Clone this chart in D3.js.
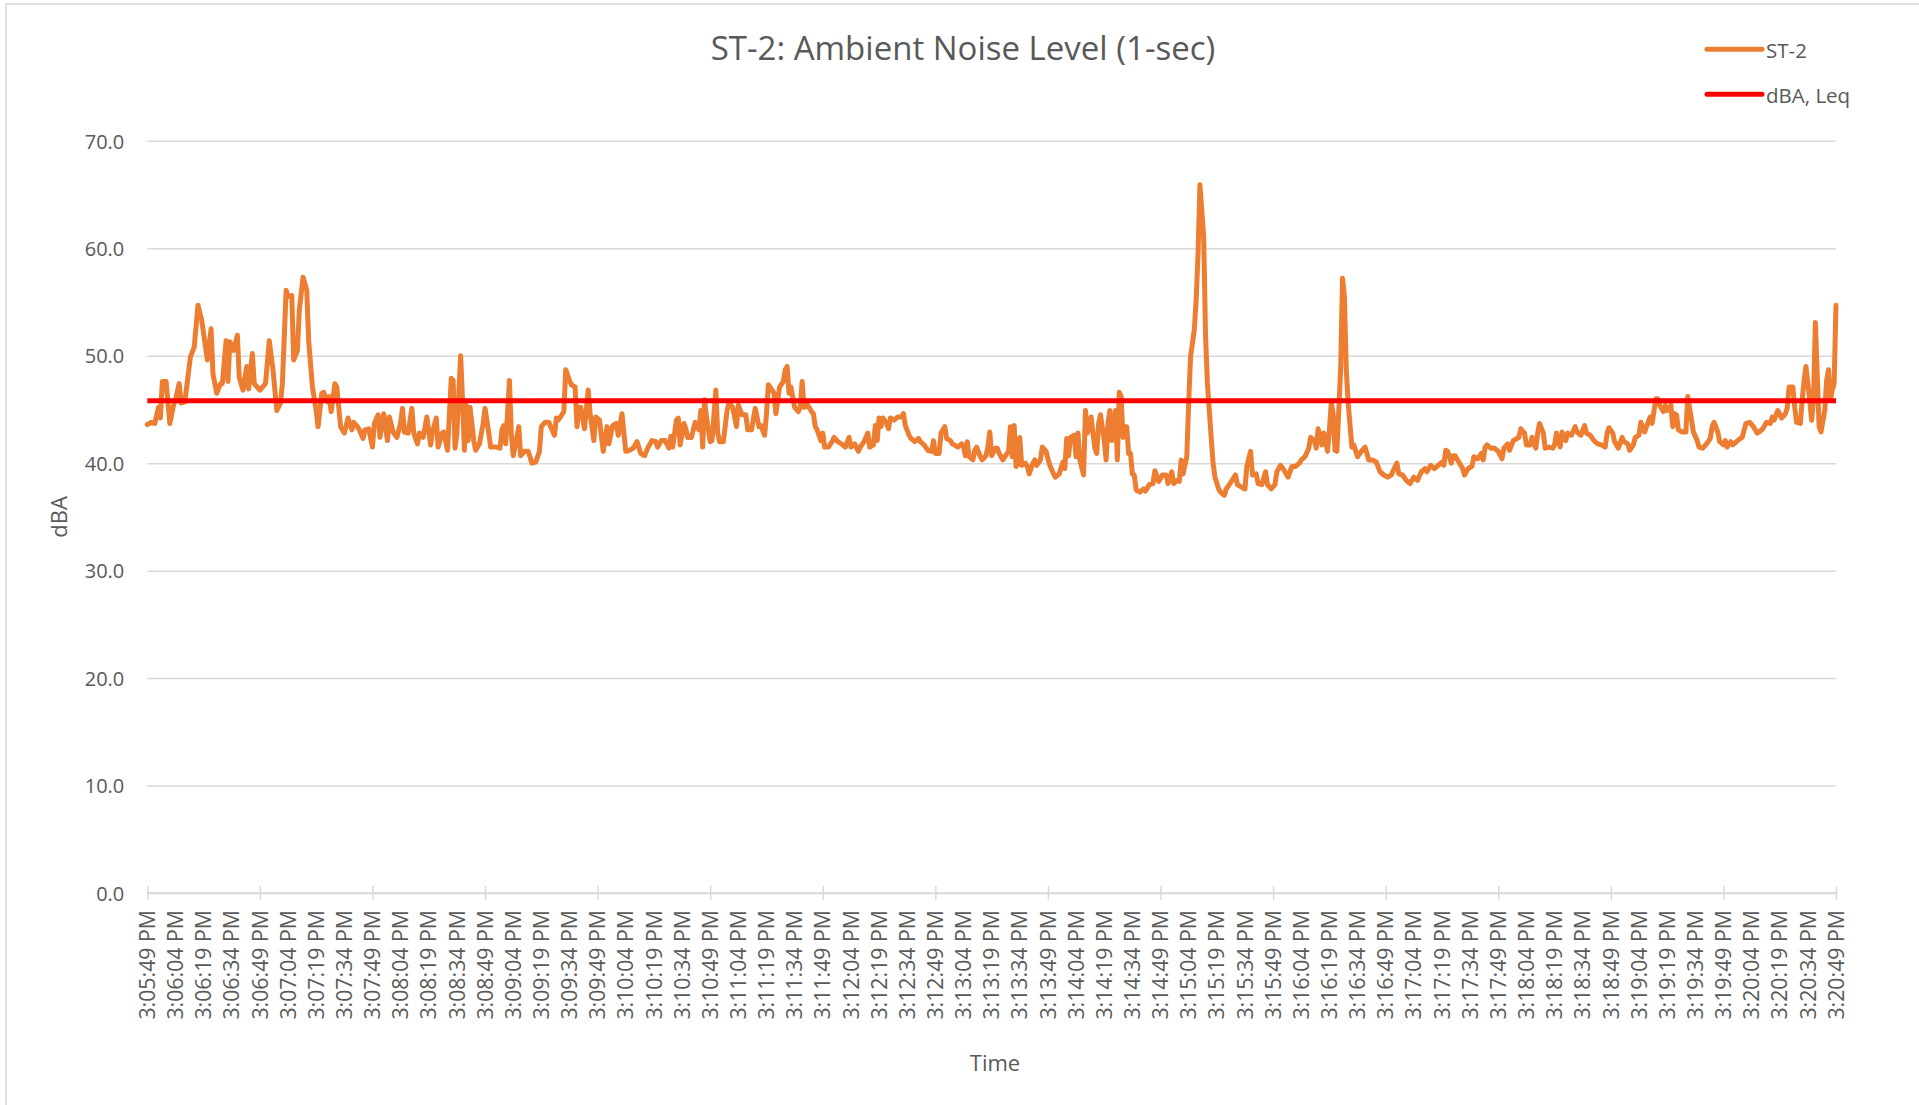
<!DOCTYPE html>
<html>
<head>
<meta charset="utf-8">
<title>ST-2: Ambient Noise Level (1-sec)</title>
<script src="https://cdn.jsdelivr.net/npm/d3@7/dist/d3.min.js"></script>
<style>
  html, body { margin: 0; padding: 0; background: #fff; }
  svg { display: block; }
  text { font-family: 'Open Sans', 'Noto Sans', sans-serif; fill: #595959; }
</style>
</head>
<body>
<div id="chart"></div>
<script>
'use strict';

/* ── Data ── */
const chartTitle = 'ST-2: Ambient Noise Level (1-sec)';
const seriesNames = ['ST-2', 'dBA, Leq'];
const seriesColors = ['#ED7D31', '#FF0000'];
const startTime = new Date(2023, 0, 1, 15, 5, 49);   // 3:05:49 PM
const durationSec = 900;                             // to 3:20:49 PM
const labelStepSec = 15;
const tickStepSec = 60;
const yTicks = [0, 10, 20, 30, 40, 50, 60, 70];
const leqDba = 45.8;

// [seconds after 3:05:49 PM, dBA]
const st2Samples = [
  [0,43.6],[2,43.8],[4,43.7],[6,45.2],[7,44.2],[8,47.6],[10,47.6],[12,43.7],[14,45.4],[15,45.9],[17,47.4],[18,45.6],[20,45.7],[23,49.9],[25,50.8],[27,54.7],[29,53.3],[32,49.6],[34,52.5],[35,48.3],[37,46.5],[39,47.4],[40,47.4],[42,51.4],[43,47.6],[44,51.3],[46,50.5],[48,51.9],[49,48.0],[51,46.8],[53,49.0],[54,46.9],[56,50.2],[57,47.4],[60,46.8],[63,47.4],[65,51.4],[67,48.7],[69,44.9],[71,45.6],[72,47.4],[74,56.1],[75,55.5],[77,55.6],[78,49.6],[80,50.5],[81,54.2],[83,57.3],[85,56.1],[86,51.4],[88,47.1],[90,44.9],[91,43.4],[93,46.5],[94,46.6],[96,45.7],[97,46.2],[98,44.8],[100,47.4],[101,47.1],[103,43.4],[105,42.8],[107,44.2],[109,43.1],[110,43.8],[112,43.4],[113,43.1],[115,42.3],[116,43.1],[118,43.2],[120,41.5],[121,43.7],[123,44.5],[124,42.4],[126,44.6],[128,42.1],
  [129,44.3],[131,42.9],[133,42.4],[135,43.7],[136,45.1],[137,42.9],[139,42.8],[141,45.1],[142,42.8],[144,41.8],[145,42.8],[147,42.4],[149,44.3],[151,41.7],[152,42.9],[154,44.2],[155,41.5],[157,42.8],[158,42.9],[160,41.2],[162,47.9],[163,47.7],[164,41.4],[165,42.8],[167,50.0],[168,45.9],[169,41.2],[170,45.4],[171,42.1],[172,45.2],[174,42.1],[175,41.2],[177,41.8],[179,43.7],[180,45.1],[182,42.8],[183,41.5],[186,41.5],[188,41.4],[189,43.1],[190,43.5],[191,41.8],[193,47.7],[194,42.8],[195,40.7],[196,41.5],[198,43.4],[199,40.7],[201,41.1],[203,41.1],[205,40.0],[207,40.1],[209,41.1],[210,43.4],[212,43.8],[214,43.8],[215,43.4],[217,42.6],[218,44.2],[219,44.0],[221,44.5],[222,44.8],[223,48.7],[225,47.7],[226,47.3],[228,47.1],[229,43.4],[230,45.2],[231,45.2],[233,43.2],[235,46.8],[236,44.6],[238,42.1],[239,44.3],[241,44.0],[243,41.1],[245,43.4],[246,41.8],[248,43.5],[250,43.7],[251,42.6],[253,44.6],[254,42.8],[255,41.1],[257,41.2],
  [259,41.4],[261,42.0],[263,40.9],[265,40.7],[267,41.5],[269,42.1],[271,42.0],[272,41.5],[274,42.1],[276,42.1],[278,41.4],[279,42.5],[280,41.5],[282,44.0],[283,44.2],[284,41.7],[286,43.7],[287,43.2],[288,42.4],[290,42.4],[292,43.8],[294,43.1],[295,44.9],[296,41.5],[297,45.9],[298,44.3],[300,42.0],[301,42.1],[303,46.8],[304,42.8],[305,42.0],[307,42.0],[309,44.9],[310,45.6],[312,45.2],[314,43.4],[315,45.4],[317,44.5],[319,44.5],[320,43.1],[322,43.1],[324,45.1],[326,43.4],[327,43.5],[329,42.6],[330,44.6],[331,47.3],[333,46.8],[334,46.5],[335,44.6],[337,47.1],[339,47.6],[340,48.7],[341,49.0],[342,46.5],[343,47.1],[345,45.2],[347,44.8],[348,45.2],[349,47.6],[350,45.2],[352,45.4],[354,44.8],[355,44.6],[356,43.4],[357,43.1],[359,42.1],[360,42.8],[361,41.5],[363,41.5],[365,42.0],[366,42.4],[368,42.0],[370,41.8],[372,41.5],[374,42.4],[375,41.5],[377,41.8],[379,41.1],[380,41.5],[382,42.0],[384,42.8],[385,41.5],[387,41.7],[388,43.5],
  [389,42.1],[390,44.2],[391,43.4],[392,44.2],[394,43.7],[395,43.2],[396,44.2],[398,44.0],[400,44.3],[402,44.3],[403,44.6],[404,43.5],[406,42.6],[407,42.3],[409,42.0],[411,42.3],[412,42.0],[414,41.7],[416,41.2],[418,41.1],[419,42.1],[420,40.9],[422,40.9],[423,42.8],[425,43.4],[426,42.3],[428,42.1],[429,41.8],[430,41.7],[432,41.5],[434,41.8],[435,41.5],[436,40.7],[437,42.0],[438,40.6],[440,40.3],[441,41.2],[442,41.5],[444,40.6],[445,40.3],[447,40.7],[448,41.5],[449,42.9],[450,40.7],[452,41.4],[453,41.4],[454,40.9],[456,40.3],[457,40.6],[459,41.1],[460,43.4],[461,40.6],[462,43.5],[463,39.7],[464,40.0],[465,42.4],[466,39.8],[468,40.0],[469,39.7],[470,39.0],[472,40.0],[473,40.3],[474,39.8],[476,40.3],[477,41.5],[479,41.1],[480,40.4],[481,39.8],[483,39.0],[484,38.7],[486,39.0],[488,40.1],[489,39.5],[490,42.3],[491,40.7],[492,42.4],[494,42.6],[495,40.6],[496,42.8],[497,40.3],[499,38.9],[500,44.9],[501,42.8],[503,44.3],[504,42.8],[505,41.4],[506,40.9],[507,43.7],[508,44.5],[510,42.1],[511,40.3],[512,43.7],[513,44.9],[514,42.1],[516,44.9],[517,40.3],[518,46.6],[519,46.2],[520,42.4],
  [521,43.4],[522,43.4],[523,40.9],[524,40.9],[525,39.0],[526,38.9],[527,37.5],[529,37.3],[531,37.6],[532,37.4],[534,38.0],[536,38.1],[537,39.3],[539,38.3],[541,38.9],[543,38.9],[544,38.1],[546,39.2],[547,38.1],[549,38.4],[550,38.3],[551,40.3],[552,39.0],[554,40.6],[555,45.6],[556,49.9],[558,52.4],[559,55.2],[560,59.5],[561,65.9],[563,61.1],[564,51.8],[565,47.4],[567,42.4],[568,40.0],[569,38.7],[571,37.6],[572,37.3],[574,37.0],[575,37.6],[577,38.1],[580,38.9],[581,38.0],[583,37.8],[585,37.6],[586,39.7],[588,41.1],[589,38.9],[591,39.0],[592,38.1],[594,38.0],[596,39.2],[597,38.0],[599,37.6],[601,38.0],[602,39.2],[604,39.8],[606,39.3],[608,38.7],[610,39.7],[612,39.7],[614,40.0],[615,40.3],[617,40.6],[619,41.4],[620,42.4],[622,42.1],[623,41.4],[624,43.2],[626,41.7],[627,42.8],[629,41.1],[630,43.1],[631,45.6],[632,44.6],[633,41.2],[634,41.1],[636,48.7],[637,57.2],[638,55.5],[639,48.7],[640,45.6],[642,41.5],[643,41.7],[645,40.6],[647,41.1],[649,41.5],
  [650,40.9],[651,40.3],[653,40.3],[655,40.1],[657,39.2],[659,38.9],[661,38.7],[663,38.9],[664,39.3],[666,40.0],[667,39.0],[669,38.9],[671,38.4],[673,38.1],[675,38.7],[677,38.4],[679,39.2],[681,39.5],[682,39.2],[684,39.8],[686,39.5],[688,39.8],[690,40.1],[691,39.8],[692,41.2],[693,41.1],[695,40.0],[696,40.7],[697,40.7],[699,40.1],[701,39.5],[702,38.9],[704,39.5],[706,39.7],[707,40.6],[709,40.4],[711,40.9],[712,40.3],[713,41.5],[714,41.7],[716,41.4],[718,41.4],[720,41.1],[722,40.4],[723,41.4],[725,41.8],[726,41.2],[728,42.1],[730,42.3],[731,42.4],[732,43.2],[734,42.8],[735,41.7],[737,41.7],[738,42.4],[740,41.4],[741,42.8],[742,43.7],[744,42.8],[745,41.4],[747,41.5],[749,41.4],[750,41.7],[751,42.8],[753,41.5],[754,42.9],[755,42.3],[756,42.1],[757,42.8],[759,42.6],[761,43.4],[762,42.9],[764,42.6],[766,43.5],[767,42.8],[769,42.6],[771,42.1],[773,41.8],[775,41.7],[777,41.5],[778,42.8],[779,43.3],
  [781,42.8],[782,42.0],[784,41.4],[786,42.4],[787,42.0],[789,41.8],[790,41.2],[792,41.7],[793,42.4],[795,42.6],[796,43.8],[798,42.9],[799,43.4],[801,44.3],[802,43.7],[804,46.0],[805,46.0],[806,45.4],[808,44.8],[809,45.4],[810,44.9],[812,45.4],[813,43.4],[814,44.6],[815,44.5],[816,43.1],[818,42.9],[820,42.9],[821,46.2],[823,44.0],[824,42.9],[826,42.1],[827,41.5],[829,41.4],[831,41.8],[833,42.3],[834,43.4],[835,43.8],[837,42.9],[838,42.0],[840,41.7],[841,42.1],[842,41.5],[844,42.0],[845,41.7],[847,42.0],[849,42.3],[850,42.4],[852,43.7],[854,43.8],[856,43.4],[858,42.8],[859,42.9],[861,43.2],[863,43.8],[865,43.7],[866,44.3],[867,44.0],[869,44.9],[871,44.2],[873,44.6],[874,45.1],[875,47.1],[877,47.1],[878,45.2],[879,43.8],[881,43.7],[882,45.9],[883,47.7],[884,49.0],[886,45.9],[887,44.0],[888,45.9],[889,53.1],[891,43.4],[892,42.9],[894,44.9],[895,47.7],[896,48.7],[897,45.9],[898,46.8],[899,47.4],[900,54.7]
];

/* ── Layout ── */
const W = 1919, H = 1105;
const plot = { left: 147.3, right: 1836, top: 140.8, bottom: 893 };
const atSec = s => new Date(startTime.getTime() + s * 1000);

const svg = d3.select('#chart').append('svg')
  .attr('width', W)
  .attr('height', H)
  .attr('viewBox', `0 0 ${W} ${H}`);

svg.append('rect').attr('width', W).attr('height', H).attr('fill', '#fff');

// chart frame (left + top edges visible)
svg.append('path')
  .attr('d', `M6,${H} V4 H${W}`)
  .attr('fill', 'none')
  .attr('stroke', '#d9d9d9')
  .attr('stroke-width', 1.5);

/* ── Scales ── */
const x = d3.scaleTime()
  .domain([startTime, atSec(durationSec)])
  .range([plot.left, plot.right]);

const y = d3.scaleLinear()
  .domain([0, 70])
  .range([plot.bottom, plot.top]);

/* ── Gridlines + y labels ── */
const yAxis = svg.append('g')
  .attr('transform', `translate(${plot.left},0)`)
  .call(d3.axisLeft(y)
    .tickValues(yTicks)
    .tickFormat(d3.format('.1f'))
    .tickSize(-(plot.right - plot.left))
    .tickPadding(23));
yAxis.select('.domain').remove();
yAxis.selectAll('.tick line')
  .attr('stroke', '#d9d9d9')
  .attr('stroke-width', 1.5);
yAxis.selectAll('.tick text')
  .attr('dy', '0.36em')
  .style('font-size', '20px')
  .style('font-family', "'Open Sans', sans-serif")
  .attr('fill', '#595959');

/* ── X axis ── */
const labelTimes = d3.range(0, durationSec + 1, labelStepSec).map(atSec);
const tickTimes = d3.range(0, durationSec + 1, tickStepSec).map(atSec);
const fmtTime = d3.timeFormat('%-I:%M:%S %p');

svg.append('line')
  .attr('x1', plot.left).attr('x2', plot.right)
  .attr('y1', plot.bottom).attr('y2', plot.bottom)
  .attr('stroke', '#d9d9d9')
  .attr('stroke-width', 1.5);

const xTicks = svg.append('g')
  .attr('transform', `translate(0,${plot.bottom - 7})`)
  .call(d3.axisBottom(x).tickValues(tickTimes).tickSize(14).tickFormat(''));
xTicks.select('.domain').remove();
xTicks.selectAll('.tick line').attr('stroke', '#d9d9d9').attr('stroke-width', 1.5);

svg.append('g')
  .selectAll('text')
  .data(labelTimes)
  .join('text')
  .attr('transform', d => `translate(${x(d)},910) rotate(-90)`)
  .attr('text-anchor', 'end')
  .attr('dy', '0.36em')
  .style('font-size', '21.3px')
  .text(d => fmtTime(d));

/* ── Series ── */
const line = d3.line()
  .x(d => x(atSec(d[0])))
  .y(d => y(d[1]));

svg.append('path')
  .datum(st2Samples)
  .attr('d', line)
  .attr('fill', 'none')
  .attr('stroke', seriesColors[0])
  .attr('stroke-width', 5)
  .attr('stroke-linejoin', 'round')
  .attr('stroke-linecap', 'round');

svg.append('path')
  .datum([[0, leqDba], [durationSec, leqDba]])
  .attr('d', line)
  .attr('fill', 'none')
  .attr('stroke', seriesColors[1])
  .attr('stroke-width', 5);

/* ── Titles ── */
svg.append('text')
  .attr('x', 963)
  .attr('y', 60)
  .attr('text-anchor', 'middle')
  .style('font-size', '33px')
  .text(chartTitle);

svg.append('text')
  .attr('x', 995)
  .attr('y', 1071)
  .attr('text-anchor', 'middle')
  .style('font-size', '22px')
  .text('Time');

svg.append('text')
  .attr('transform', `translate(67,${(plot.top + plot.bottom) / 2}) rotate(-90)`)
  .attr('text-anchor', 'middle')
  .style('font-size', '22px')
  .text('dBA');

/* ── Legend ── */
const legend = svg.append('g')
  .selectAll('g')
  .data(seriesNames)
  .join('g')
  .attr('transform', (d, i) => `translate(1707,${49.3 + i * 45})`);

legend.append('line')
  .attr('x1', 0).attr('x2', 55)
  .attr('stroke', (d, i) => seriesColors[i])
  .attr('stroke-width', 5)
  .attr('stroke-linecap', 'round');

legend.append('text')
  .attr('x', 59)
  .attr('y', 9)
  .style('font-size', '20.5px')
  .text(d => d);
</script>
</body>
</html>
